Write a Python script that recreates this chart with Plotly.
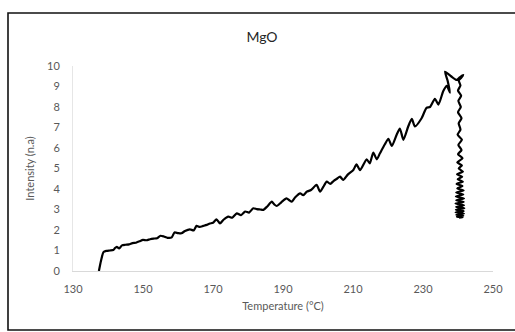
import plotly.graph_objects as go

# Temperature (°C) and intensity (n.a.)
temperature = [
    137.4, 138.0, 138.7, 139.5, 140.5, 141.5, 142.0, 142.5, 143.2, 144.0,
    145.0, 146.0, 147.0, 148.0, 149.0, 150.0, 151.0, 152.0, 153.0, 154.0,
    155.0, 156.0, 157.0, 158.2, 159.0, 160.0, 161.0, 162.0, 163.4, 164.5,
    165.3, 166.2, 167.2, 168.2, 169.1, 170.0, 171.0, 172.0, 173.0, 174.4,
    175.5, 176.8, 178.0, 179.2, 180.3, 181.5, 182.5, 183.5, 184.4, 185.5,
    186.8, 187.5, 188.2, 189.5, 191.0, 191.8, 192.5, 193.5, 194.9, 195.8,
    196.8, 198.0, 199.6, 200.6, 201.5, 202.5, 203.5, 204.5, 205.4, 206.3,
    207.2, 208.5, 210.1, 211.0, 212.0, 213.9, 214.8, 215.8, 216.8, 217.7,
    219.1, 220.1, 221.1, 222.5, 223.4, 224.4, 225.8, 226.8, 227.7, 229.6,
    231.0, 232.0, 233.4, 234.4, 235.8, 236.8, 237.7, 237.0, 236.3, 238.0,
    239.6, 240.5, 241.5, 240.8, 240.2,
    240.7, 240.0, 240.9, 240.1, 240.8, 240.0, 241.0, 240.2, 240.7, 239.9,
    241.1, 240.1, 241.0, 240.0, 241.3, 239.8, 241.1, 240.2, 241.4, 239.7,
    241.2, 239.9, 241.4, 239.6, 241.3, 239.8, 241.6, 239.5, 241.5, 239.4,
    241.7, 239.5, 241.6, 239.3, 241.7, 239.5, 241.8, 239.4, 241.6, 239.3,
    241.7, 239.5, 241.5, 239.7, 241.3, 240.3,
]
intensity = [
    0.0, 0.5, 0.92, 0.98, 1.0, 1.02, 1.12, 1.18, 1.1, 1.25,
    1.28, 1.3, 1.36, 1.38, 1.45, 1.52, 1.5, 1.55, 1.58, 1.6,
    1.72, 1.68, 1.62, 1.64, 1.88, 1.85, 1.84, 1.95, 2.03, 1.98,
    2.2, 2.15, 2.2, 2.25, 2.32, 2.35, 2.52, 2.32, 2.5, 2.65,
    2.6, 2.81, 2.72, 2.9, 2.85, 3.06, 3.02, 3.0, 2.98, 3.15,
    3.38, 3.25, 3.17, 3.35, 3.54, 3.45, 3.38, 3.6, 3.79, 3.7,
    3.87, 3.95, 4.2, 3.87, 4.1, 4.36, 4.25, 4.4, 4.5, 4.6,
    4.44, 4.7, 4.93, 5.2, 4.92, 5.45, 5.25, 5.78, 5.45, 5.74,
    6.18, 6.45, 6.1, 6.66, 6.95, 6.4, 7.06, 7.42, 7.05, 7.45,
    7.96, 8.0, 8.4, 8.12, 8.78, 9.03, 8.7, 9.3, 9.72, 9.5,
    9.32, 9.45, 9.56, 9.4, 9.3,
    9.05, 8.8, 8.55, 8.3, 8.0, 7.75, 7.45, 7.2, 6.9, 6.65,
    6.4, 6.15, 5.9, 5.7, 5.5, 5.3, 5.15, 5.0, 4.85, 4.72,
    4.6, 4.48, 4.36, 4.25, 4.14, 4.03, 3.93, 3.83, 3.73, 3.63,
    3.54, 3.45, 3.37, 3.29, 3.21, 3.13, 3.06, 2.99, 2.92, 2.86,
    2.8, 2.74, 2.69, 2.65, 2.62, 2.6,
]

x_ticks = [130, 150, 170, 190, 210, 230, 250]
y_ticks = [0, 1, 2, 3, 4, 5, 6, 7, 8, 9, 10]

W, H = 515, 332
L, R, T, B = 73, 22, 66, 61
pw, ph = W - L - R, H - T - B

def px_x(p):
    return (p - L) / pw

def px_y(p):
    return (H - B - p) / ph

fig = go.Figure()
fig.add_trace(go.Scatter(
    x=temperature, y=intensity, mode="lines",
    line=dict(color="black", width=2.2, shape="spline", smoothing=0.6),
    showlegend=False, hoverinfo="skip",
))

gray = "#595959"
fig.update_layout(
    width=W, height=H,
    margin=dict(l=L, r=R, t=T, b=B),
    paper_bgcolor="white", plot_bgcolor="white",
    font=dict(family="Lato, Carlito, Calibri, sans-serif", color=gray, size=11),
    title=dict(text="MgO", x=(262 / W), xanchor="center", y=1 - 37 / H, yanchor="middle",
               font=dict(size=14, color="#262626")),
    xaxis=dict(
        range=[130, 250], tickvals=x_ticks, ticktext=[str(v) for v in x_ticks],
        showgrid=False, zeroline=False, showline=True, linecolor="#d9d9d9", linewidth=1,
        ticks="", ticklabelstandoff=8,
        title=dict(text="Temperature (°C)", standoff=8, font=dict(size=11, color=gray)),
    ),
    yaxis=dict(
        range=[0, 10], tickvals=y_ticks, ticktext=[str(v) for v in y_ticks],
        showgrid=False, zeroline=False, showline=True, linecolor="#e6e6e6", linewidth=1,
        ticks="", ticklabelstandoff=10,
        title=dict(text="Intensity (n.a)", standoff=10, font=dict(size=11, color=gray)),
    ),
    shapes=[dict(
        type="rect", xref="paper", yref="paper",
        x0=px_x(8), x1=px_x(518), y0=px_y(330), y1=px_y(13),
        line=dict(color="#111111", width=1.6), fillcolor="rgba(0,0,0,0)", layer="above",
    )],
)

fig.write_html(
    "out.html",
    config={"displayModeBar": False, "staticPlot": True},
    post_script="document.body.style.margin='0';document.body.style.overflow='hidden';",
)
